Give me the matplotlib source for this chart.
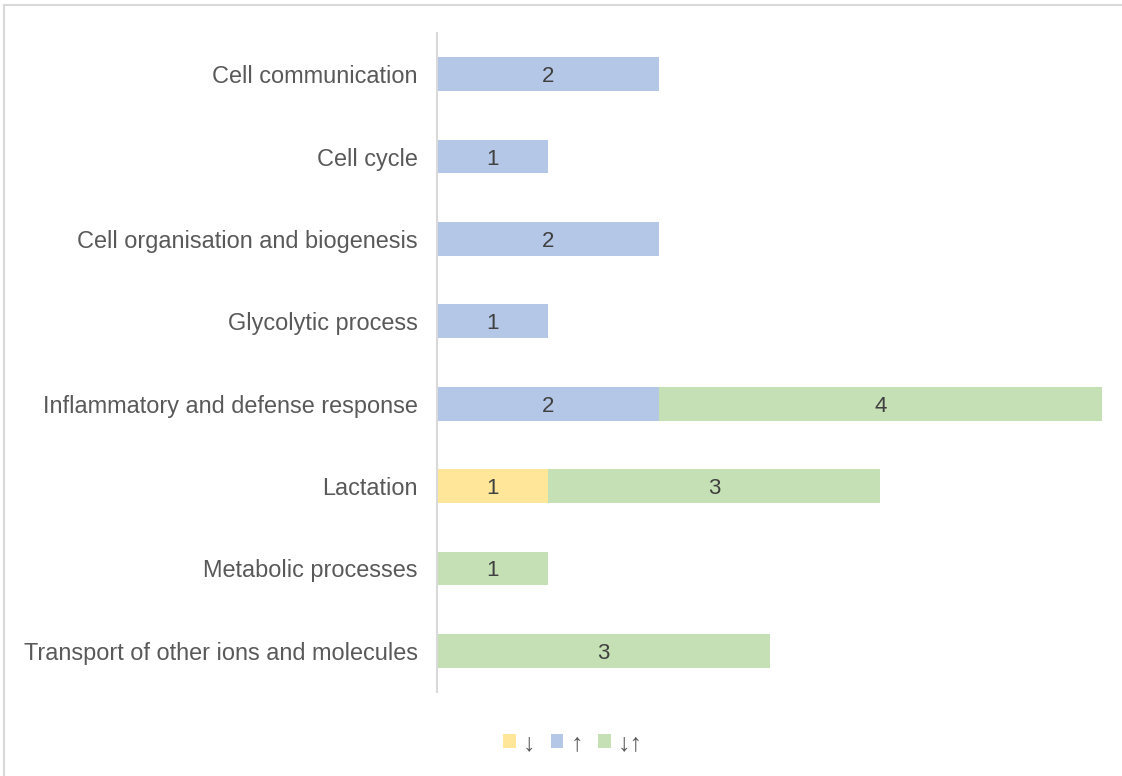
import matplotlib
matplotlib.use("Agg")
import matplotlib.pyplot as plt
from matplotlib.patches import Rectangle
import numpy as np

categories = ["Cell communication", "Cell cycle", "Cell organisation and biogenesis",
              "Glycolytic process", "Inflammatory and defense response", "Lactation",
              "Metabolic processes", "Transport of other ions and molecules"]
down = [0, 0, 0, 0, 0, 1, 0, 0]
up = [2, 1, 2, 1, 2, 0, 0, 0]
both = [0, 0, 0, 0, 4, 3, 1, 3]
series_names = ["↓", "↑", "↓↑"]
colors = ["#FFE699", "#B4C7E7", "#C5E0B4"]

plt.rcParams['font.family'] = ['Liberation Sans', 'DejaVu Sans']

W, H = 1122, 776
fig = plt.figure(figsize=(W/100, H/100), dpi=100)
ax = fig.add_axes([437/W, 1-692/H, (1102-437)/W, (692-33)/H])

y = np.arange(len(categories))
left = np.zeros(len(categories))
for vals, name, col in zip([down, up, both], series_names, colors):
    vals = np.array(vals, dtype=float)
    ax.barh(y, vals, left=left, height=0.41, color=col, label=name)
    for yi, v, l in zip(y, vals, left):
        if v > 0:
            ax.text(l + v/2, yi, f"{int(v)}", ha='center', va='center_baseline',
                    fontsize=16, color='#404040')
    left += vals

ax.set_xlim(0, 6)
ax.set_ylim(len(categories)-0.5, -0.5)
ax.set_yticks(y)
ax.set_yticklabels(categories, fontsize=16.9, color='#595959')
ax.tick_params(axis='y', length=0, pad=14)
ax.set_xticks([])
for s in ['top', 'right', 'bottom']:
    ax.spines[s].set_visible(False)
ax.spines['left'].set_color('#D9D9D9')
ax.spines['left'].set_linewidth(1.5)

leg = fig.legend(loc='center', bbox_to_anchor=(573/W, 1-743/H), ncol=3, frameon=False,
                 fontsize=18, handlelength=0.5, handleheight=0.5, handletextpad=0.3,
                 columnspacing=0.6, labelcolor='#595959')

fig.patches.append(Rectangle((4/W, -0.1), 1.2, 1-5/H+0.1, transform=fig.transFigure,
                             fill=False, edgecolor='#D9D9D9', linewidth=1.5))

fig.savefig("out.png", dpi=100)
